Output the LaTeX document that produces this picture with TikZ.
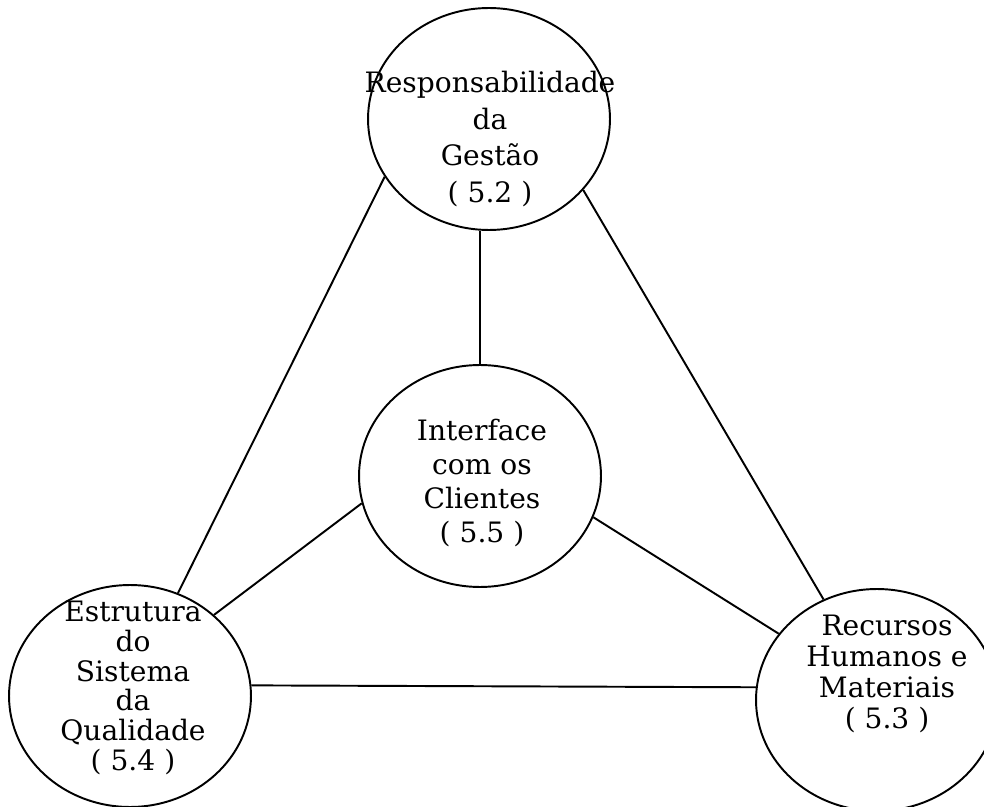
\documentclass[tikz,border=0pt]{standalone}
\usepackage{fontspec}
\setmainfont{DejaVu Serif}
\usepackage{tikz}
\usetikzlibrary{
    shapes.geometric
}
\tikzset{
    every area/.style={
        draw,
        ellipse,
        line width=1.1pt,
        minimum width=4.84cm,
        minimum height=4.44cm,
        inner sep=0pt
    },
    area/.style={every area},
    rotulo/.style={
        align=center,
        inner sep=0pt,
        font=\fontsize{16}{19.5}\selectfont
    },
    ligacao/.style={
        line width=1.1pt
    }
}

\begin{document}
\begin{tikzpicture}[
    x=0.02cm,
    y=-0.02cm
]

    \useasboundingbox (0,0) rectangle (984,807);

    % Areas
    \node[area] (gestao)    at (489,119) {};
    \node[area] (interface) at (480,476) {};
    \node[area] (estrutura) at (130,696) {};
    \node[area] (recursos)  at (877,700) {};

    % Textos
    \node[rotulo, font=\fontsize{16}{21}\selectfont]
        (tgestao) at (490,139)
        {Responsabilidade\\da\\Gestão\\( 5.2 )};
    \node[rotulo]
        (tinterface) at (482,483)
        {Interface\\com os\\Clientes\\( 5.5 )};
    \node[rotulo, font=\fontsize{16}{17}\selectfont]
        (testrutura) at (133,688)
        {Estrutura\\do\\Sistema\\da\\Qualidade\\( 5.4 )};
    \node[rotulo, font=\fontsize{16}{17.5}\selectfont]
        (trecursos) at (887,674)
        {Recursos\\Humanos e\\Materiais\\( 5.3 )};

    % Ligacoes
    \path[ligacao]

        % Desde a gestao
        (gestao.209)
            edge (estrutura.65)
        (gestao.-37)
            edge (recursos.118)
        (interface.north)
            edge (interface.north |- gestao.south)

        % Desde a interface
        (interface.193)
            edge (estrutura.44)
        (interface.-20)
            edge (recursos.146)

        % Base
        (estrutura.5)
            edge (recursos.174);

\end{tikzpicture}
\end{document}
